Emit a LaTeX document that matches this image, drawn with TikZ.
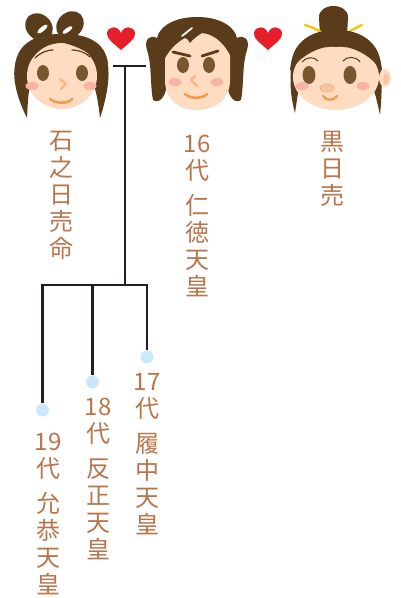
\documentclass[tikz,border=0pt]{standalone}
\usepackage{fontspec}
\newfontfamily\jpfont{Noto Sans CJK JP}
\definecolor{skinc}{HTML}{FDDCC2}
\definecolor{hairc}{HTML}{5A3B1A}
\definecolor{eyec}{HTML}{7A5530}
\definecolor{cheekc}{HTML}{F7B3A5}
\definecolor{orangec}{HTML}{F59A45}
\definecolor{nosec}{HTML}{F9C4A0}
\definecolor{heartc}{HTML}{E61E2A}
\definecolor{ribbonc}{HTML}{F5C400}
\definecolor{linec}{HTML}{231F20}
\definecolor{dotc}{HTML}{C9E8FA}
\definecolor{txtc}{HTML}{B8754C}
\begin{document}
\begin{tikzpicture}[x=1pt,y=-1pt,
  link/.style={draw=linec, line width=2.4pt},
  dot/.style={circle, fill=dotc, inner sep=0pt, minimum size=13pt},
  vlabel/.style={text=txtc, font=\jpfont\fontsize{24}{27}\selectfont,
    align=center, inner sep=0pt, anchor=north},
  skin/.style={fill=skinc},
  hair/.style={fill=hairc},
  eye/.style={fill=eyec},
  cheek/.style={fill=cheekc},
  feature/.style={draw=orangec, line width=2.3pt, line cap=round, line join=round},
  brow/.style={draw=hairc, line cap=round},
  heart/.pic={\fill[heartc] (0,12) .. controls (-8,5) and (-15,0) .. (-14,-5)
      .. controls (-13,-12) and (-3,-13) .. (0,-5)
      .. controls (3,-13) and (13,-12) .. (14,-5)
      .. controls (15,0) and (8,5) .. (0,12) -- cycle;}]
\useasboundingbox (0,0) rectangle (400,598);

% ---------- connectors ----------
\coordinate (pL) at (113,66);
\coordinate (pR) at (146,66);
\coordinate (pM) at (125,66);
\coordinate (bus) at (125,285);
\coordinate (b19) at (42.5,285);
\coordinate (b18) at (92.5,285);
\coordinate (b17) at (147,285);
\node[dot] (d17) at (147,357) {};
\node[dot] (d18) at (92.5,382) {};
\node[dot] (d19) at (42.5,410) {};
\draw[link] (pL) -- (pR);
\draw[link] (pM) -- (bus);
\draw[link] (d19.north) -- (b19) -- (b17) -- (d17.north);
\draw[link] (b18) -- (d18.north);

% ---------- hearts ----------
\pic at (121,38) {heart};
\pic at (268,38) {heart};

% ---------- left face with hair bow ----------
\begin{scope}[shift={(62,0)}]
  \fill[hair, rotate around={135:(-23,27)}] (-23,27) ellipse [x radius=15, y radius=12.5];
  \fill[hair, rotate around={45:(8,25)}] (8,25) ellipse [x radius=15, y radius=12.5];
  \fill[white, rotate around={40:(-19.5,29)}] (-19.5,29) ellipse [x radius=6.5, y radius=2.2];
  \fill[white, rotate around={35:(5.5,30)}] (5.5,30) ellipse [x radius=6, y radius=2.1];
  \fill[hair] (-35,118) .. controls (-44,100) and (-50,80) .. (-47,65)
     .. controls (-44,42) and (-25,34) .. (0,34)
     .. controls (25,34) and (44,42) .. (46,65)
     .. controls (48,80) and (44,100) .. (38,118)
     .. controls (36,100) and (34,90) .. (30,80) -- (-30,80)
     .. controls (-34,90) and (-34,100) .. cycle;
  \fill[skin] (0,76) ellipse [x radius=35, y radius=33];
  \fill[hair] (-47,68) .. controls (-44,42) and (-25,34) .. (0,34)
     .. controls (25,34) and (44,42) .. (46,65) -- (36,62)
     .. controls (25,48) and (0,41) .. (-12,41)
     .. controls (-22,48) and (-30,58) .. (-38,68) -- cycle;
  \draw[brow, line width=1.2pt] (-27,58) .. controls (-21,52) and (-14,50) .. (-9,50);
  \draw[brow, line width=1.2pt] (10,50) .. controls (16,50) and (23,52) .. (28,57);
  \fill[eye] (-19,73) ellipse [x radius=6, y radius=8];
  \fill[eye] (20,73) ellipse [x radius=6, y radius=8];
  \fill[cheek] (-30,86) ellipse [x radius=6.5, y radius=4];
  \fill[cheek] (28,86) ellipse [x radius=6.5, y radius=4];
  \draw[feature, draw=nosec!70!orangec] (-2,79) -- (4,84) -- (-1,89);
  \draw[feature, line width=2.6pt] (-12,99) .. controls (-6,104) and (6,104) .. (10,99);
\end{scope}

% ---------- middle face ----------
\begin{scope}[shift={(197,0)}]
  \fill[hair] (0,17) .. controls (-25,17) and (-38,28) .. (-40,38)
     .. controls (-48,34) and (-53,40) .. (-50,50)
     .. controls (-45,65) and (-47,85) .. (-44,100)
     .. controls (-38,104) and (-32,98) .. (-30,85) -- (30,85)
     .. controls (32,98) and (38,104) .. (44,100)
     .. controls (47,85) and (45,65) .. (50,50)
     .. controls (53,40) and (48,34) .. (40,38)
     .. controls (38,28) and (25,17) .. (0,17) -- cycle;
  \fill[skin] (-32,50) -- (-32,80) .. controls (-32,100) and (-18,110) .. (0,110)
     .. controls (18,110) and (33,100) .. (33,80) -- (33,50)
     .. controls (33,35) and (18,30) .. (0,30)
     .. controls (-18,30) and (-32,35) .. cycle;
  \fill[hair] (-36,60) .. controls (-36,30) and (-20,20) .. (0,20)
     .. controls (20,20) and (36,30) .. (36,58) -- (33,55)
     .. controls (25,40) and (15,34) .. (5,33)
     .. controls (0,36) and (-5,40) .. (-7,43)
     .. controls (-9,40) and (-10,38) .. (-12,38)
     .. controls (-20,42) and (-28,50) .. (-33,60) -- cycle;
  \draw[white, line width=1.8pt, line cap=round] (-15,36) -- (-5,28);
  \draw[brow, line width=2.8pt] (-24,52) -- (-7,56);
  \draw[brow, line width=2.8pt] (5,56) -- (21,51);
  \fill[eye] (-14,65) ellipse [x radius=6, y radius=8];
  \fill[eye] (12,65) ellipse [x radius=6, y radius=8];
  \fill[cheek] (-22,82) ellipse [x radius=6.5, y radius=4];
  \fill[cheek] (20,82) ellipse [x radius=6.5, y radius=4];
  \draw[feature, draw=nosec!70!orangec] (-2,76) -- (-6,80) -- (0,86);
  \draw[feature, line width=2.6pt] (-12,94) .. controls (-6,99) and (5,99) .. (10,94);
\end{scope}

% ---------- right face with topknot ----------
\begin{scope}[shift={(336,0)}]
  \fill[hair] (-16,35) -- (-17,18) .. controls (-18,2) and (13,2) .. (12,18) -- (11,35) -- cycle;
  \draw[ribbonc, line width=2.3pt, line cap=round] (-31,25) .. controls (-24,27) and (-18,30) .. (-13,33);
  \draw[ribbonc, line width=2.3pt, line cap=round] (11,33) .. controls (16,30) and (21,27) .. (26,25);
  \fill[hair] (-41,113) .. controls (-46,95) and (-46,80) .. (-45,65)
     .. controls (-43,42) and (-25,30) .. (0,30)
     .. controls (25,30) and (43,42) .. (45,65)
     .. controls (46,80) and (46,95) .. (44,115)
     .. controls (41,100) and (38,90) .. (36,85) -- (-36,85)
     .. controls (-38,90) and (-39,100) .. cycle;
  \fill[skin] (49,78) ellipse [x radius=6, y radius=9];
  \fill[nosec] (50,79) ellipse [x radius=3, y radius=5.5];
  \fill[skin] (0,77) ellipse [x radius=43, y radius=33];
  \fill[hair] (-46,70) .. controls (-43,42) and (-25,30) .. (0,30)
     .. controls (25,30) and (43,42) .. (46,70) -- (42,66)
     .. controls (30,52) and (12,45) .. (0,47)
     .. controls (-12,45) and (-30,52) .. (-42,66) -- cycle;
  \draw[brow, line width=1pt] (-34,62) .. controls (-30,57) and (-22,56) .. (-18,61);
  \draw[brow, line width=1pt] (7,61) .. controls (11,56) and (20,56) .. (24,62);
  \fill[eye] (-27,75) ellipse [x radius=6.5, y radius=9];
  \fill[eye] (14,75) ellipse [x radius=6.5, y radius=9];
  \fill[cheek] (-34,86) ellipse [x radius=6.5, y radius=4];
  \fill[cheek] (27,86) ellipse [x radius=6.5, y radius=4];
  \filldraw[fill=nosec, draw=nosec!60!orangec, line width=0.8pt] (-9,88) ellipse [x radius=7, y radius=4];
  \draw[feature, line width=2.2pt] (-13,96) .. controls (-9,101) and (-3,101) .. (1,96);
\end{scope}

% ---------- names ----------
\node[vlabel] (ishi) at (61,131) {石\\之\\日\\売\\命};
\node[vlabel] (nintoku) at (197,135) {16\\代\\[8pt]仁\\徳\\天\\皇};
\node[vlabel] (kuro) at (332,131) {黒\\日\\売};
\node[vlabel] (richu) at (147,373) {17\\代\\[8pt]履\\中\\天\\皇};
\node[vlabel] (hanzei) at (98,398) {18\\代\\[8pt]反\\正\\天\\皇};
\node[vlabel] (ingyo) at (48,433) {19\\代\\[8pt]允\\恭\\天\\皇};
\end{tikzpicture}
\end{document}
